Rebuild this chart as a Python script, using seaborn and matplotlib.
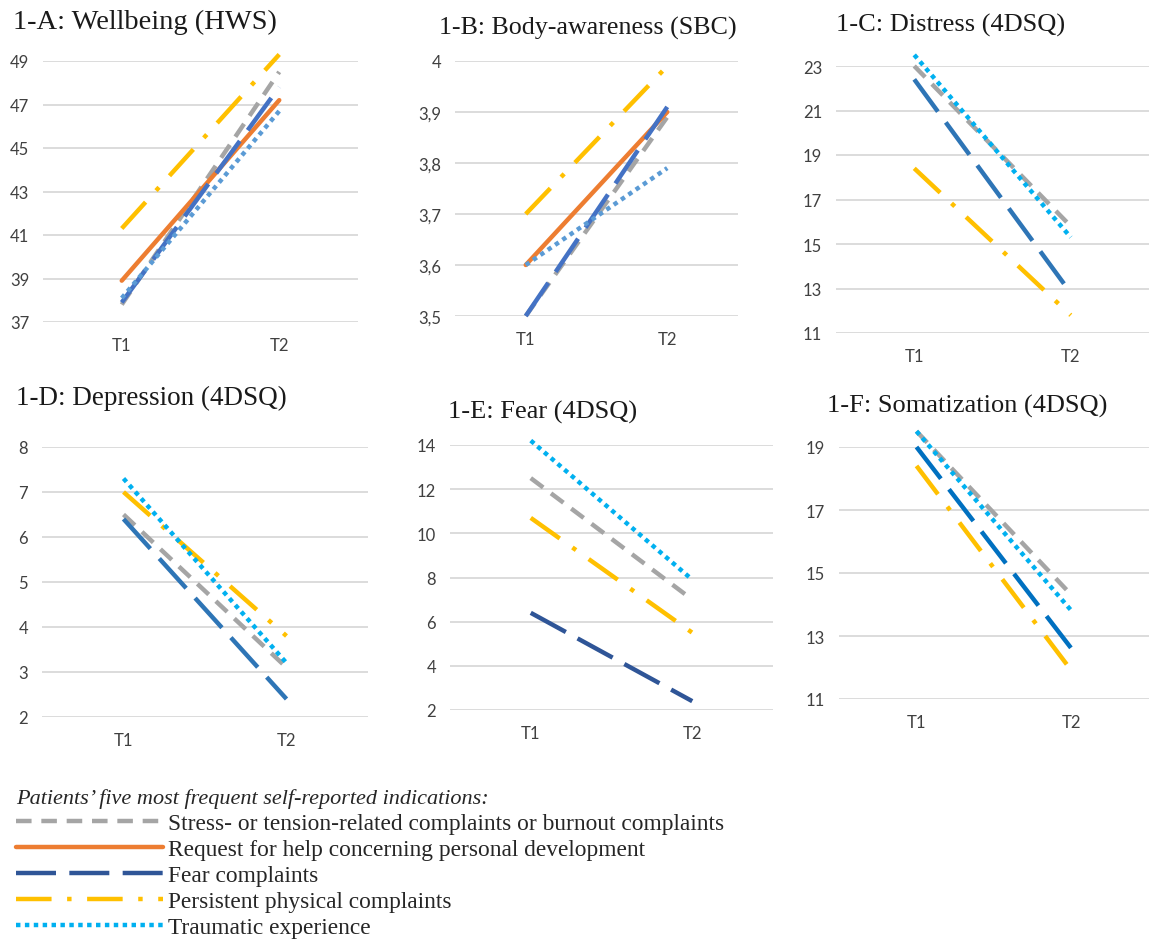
import numpy as np
import pandas as pd
import seaborn as sns
import matplotlib
matplotlib.use('Agg')
import matplotlib.pyplot as plt
from matplotlib.lines import Line2D

# Series (same order in every panel); None = series not shown in that panel
groups = ['Stress- or tension-related complaints or burnout complaints',
          'Request for help concerning personal development',
          'Fear complaints',
          'Persistent physical complaints',
          'Traumatic experience']
times = ['T1', 'T2']

wellbeing_t1 = [37.8, 38.9, 37.9, 41.3, 38.1]
wellbeing_t2 = [48.5, 47.2, 47.8, 49.3, 46.7]
body_t1 = [3.50, 3.60, 3.50, 3.70, 3.60]
body_t2 = [3.89, 3.90, 3.91, 3.99, 3.79]
distress_t1 = [23.0, None, 22.4, 18.4, 23.5]
distress_t2 = [15.8, None, 12.8, 11.8, 15.3]
depression_t1 = [6.5, None, 6.4, 7.0, 7.3]
depression_t2 = [3.1, None, 2.4, 3.8, 3.2]
fear_t1 = [12.5, None, 6.4, 10.7, 14.2]
fear_t2 = [7.0, None, 2.4, 5.5, 7.9]
somat_t1 = [19.5, None, 19.0, 18.4, 19.5]
somat_t2 = [14.3, None, 12.6, 11.9, 13.8]

titles = ['1-A: Wellbeing (HWS)', '1-B: Body-awareness (SBC)', '1-C: Distress (4DSQ)',
          '1-D: Depression (4DSQ)', '1-E: Fear (4DSQ)', '1-F: Somatization (4DSQ)']
yticks_a = [37, 39, 41, 43, 45, 47, 49]
yticks_b = [3.5, 3.6, 3.7, 3.8, 3.9, 4.0]
ylabels_b = ['3,5', '3,6', '3,7', '3,8', '3,9', '4']
yticks_c = [11, 13, 15, 17, 19, 21, 23]
yticks_d = [2, 3, 4, 5, 6, 7, 8]
yticks_e = [2, 4, 6, 8, 10, 12, 14]
yticks_f = [11, 13, 15, 17, 19]

# Styles
W, H = 1149, 945
base_colors = ['#A5A5A5', '#ED7D31', '#2F5597', '#FFC000', '#00B0F0']
dash_styles = [(3.5, 2.2), '', (9, 3), (8, 3.5, 1, 3.5), (1, 1)]

panels = [
    dict(t1=wellbeing_t1, t2=wellbeing_t2, yt=yticks_a, yl=None, fear='#4472C4', trauma='#5B9BD5',
         box=(43, 62, 358, 323), title_xy=(13, 22), tsize=20.5),
    dict(t1=body_t1, t2=body_t2, yt=yticks_b, yl=ylabels_b, fear='#4472C4', trauma='#5B9BD5',
         box=(455, 62, 738, 317), title_xy=(439, 28), tsize=18.7),
    dict(t1=distress_t1, t2=distress_t2, yt=yticks_c, yl=None, fear='#2E75B6', trauma='#00B0F0',
         box=(836, 67, 1149, 334), title_xy=(836, 25), tsize=19),
    dict(t1=depression_t1, t2=depression_t2, yt=yticks_d, yl=None, fear='#2E75B6', trauma='#00B0F0',
         box=(42, 448, 368, 718), title_xy=(16, 398), tsize=19.5),
    dict(t1=fear_t1, t2=fear_t2, yt=yticks_e, yl=None, fear='#2F5597', trauma='#00B0F0',
         box=(450, 446, 773, 711), title_xy=(448, 412), tsize=19),
    dict(t1=somat_t1, t2=somat_t2, yt=yticks_f, yl=None, fear='#0070C0', trauma='#00B0F0',
         box=(839, 448, 1149, 700), title_xy=(827, 406), tsize=19),
]

sns.set_style('white')
plt.rcParams['font.family'] = ['Lato', 'DejaVu Sans']

fig = plt.figure(figsize=(W / 100, H / 100), dpi=100)

for p, title in zip(panels, titles):
    x0, y0, x1, y1 = p['box']
    ax = fig.add_axes([x0 / W, 1 - y1 / H, (x1 - x0) / W, (y1 - y0) / H])

    rows = []
    for g, a, b in zip(groups, p['t1'], p['t2']):
        if a is None:
            continue
        rows.append({'group': g, 'time': times[0], 'score': a})
        rows.append({'group': g, 'time': times[1], 'score': b})
    df = pd.DataFrame(rows)

    colors = list(base_colors)
    colors[2] = p['fear']
    colors[4] = p['trauma']
    present = [g for g, a in zip(groups, p['t1']) if a is not None]
    pal = {g: c for g, c in zip(groups, colors) if g in present}
    dsh = {g: d for g, d in zip(groups, dash_styles) if g in present}

    sns.lineplot(data=df, x='time', y='score', hue='group', style='group',
                 hue_order=present, style_order=present, palette=pal, dashes=dsh,
                 linewidth=3.2, sort=False, legend=False, ax=ax)
    for ln in ax.lines:
        ln.set_clip_on(False)
        ln.set_dash_capstyle('butt')

    ax.set_xlim(-0.5, 1.5)
    ax.set_ylim(min(p['yt']), max(p['yt']))
    ax.set_yticks(p['yt'])
    if p['yl'] is not None:
        ax.set_yticklabels(p['yl'])
    ax.set_xlabel('')
    ax.set_ylabel('')
    ax.grid(axis='y', color='#D9D9D9', linewidth=1.3)
    ax.set_axisbelow(True)
    for s in ax.spines.values():
        s.set_visible(False)
    ax.tick_params(axis='y', length=0, pad=10, labelsize=12, labelcolor='#404040')
    ax.tick_params(axis='x', length=0, pad=11, labelsize=12, labelcolor='#404040')

    fig.text(p['title_xy'][0] / W, 1 - p['title_xy'][1] / H, title, ha='left', va='center',
             family='Liberation Serif', fontsize=p['tsize'], color='#1a1a1a')

# Legend
handles = [Line2D([0], [0], color=c, lw=3.2, dashes=d if d != '' else (None, None),
                  dash_capstyle='butt') for c, d in zip(base_colors, dash_styles)]
handles[1].set_linestyle('-')
leg = fig.legend(handles, groups, loc='upper left', bbox_to_anchor=(16 / W, 1 - 789 / H),
                 frameon=False, borderpad=0, borderaxespad=0, handlelength=6.3,
                 handletextpad=0.2, labelspacing=0.2,
                 prop={'family': 'Liberation Serif', 'size': 16.8},
                 title="Patients\u2019 five most frequent self-reported indications:",
                 title_fontproperties={'family': 'Liberation Serif', 'size': 16, 'style': 'italic'},
                 alignment='left')

fig.savefig('out.png', dpi=100)
